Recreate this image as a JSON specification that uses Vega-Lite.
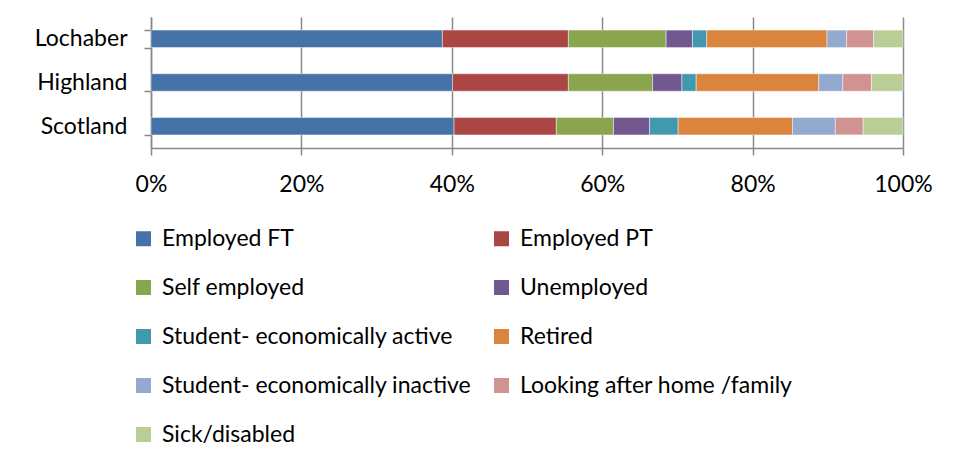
{
  "$schema": "https://vega.github.io/schema/vega-lite/v6.json",
  "width": 752,
  "height": 131,
  "autosize": {"type": "none"},
  "padding": {"left": 151, "top": 17, "right": 53, "bottom": 313},
  "background": "#ffffff",
  "data": {
    "values": [
      {"area": "Lochaber", "status": "Employed FT", "i": 0, "pct": 38.75},
      {"area": "Lochaber", "status": "Employed PT", "i": 1, "pct": 16.75},
      {"area": "Lochaber", "status": "Self employed", "i": 2, "pct": 13.0},
      {"area": "Lochaber", "status": "Unemployed", "i": 3, "pct": 3.5},
      {"area": "Lochaber", "status": "Student- economically active", "i": 4, "pct": 1.9},
      {"area": "Lochaber", "status": "Retired", "i": 5, "pct": 16.0},
      {"area": "Lochaber", "status": "Student- economically inactive", "i": 6, "pct": 2.6},
      {"area": "Lochaber", "status": "Looking after home /family", "i": 7, "pct": 3.6},
      {"area": "Lochaber", "status": "Sick/disabled", "i": 8, "pct": 3.9},
      {"area": "Highland", "status": "Employed FT", "i": 0, "pct": 40.1},
      {"area": "Highland", "status": "Employed PT", "i": 1, "pct": 15.4},
      {"area": "Highland", "status": "Self employed", "i": 2, "pct": 11.2},
      {"area": "Highland", "status": "Unemployed", "i": 3, "pct": 3.9},
      {"area": "Highland", "status": "Student- economically active", "i": 4, "pct": 1.9},
      {"area": "Highland", "status": "Retired", "i": 5, "pct": 16.3},
      {"area": "Highland", "status": "Student- economically inactive", "i": 6, "pct": 3.2},
      {"area": "Highland", "status": "Looking after home /family", "i": 7, "pct": 3.8},
      {"area": "Highland", "status": "Sick/disabled", "i": 8, "pct": 4.2},
      {"area": "Scotland", "status": "Employed FT", "i": 0, "pct": 40.3},
      {"area": "Scotland", "status": "Employed PT", "i": 1, "pct": 13.6},
      {"area": "Scotland", "status": "Self employed", "i": 2, "pct": 7.6},
      {"area": "Scotland", "status": "Unemployed", "i": 3, "pct": 4.8},
      {"area": "Scotland", "status": "Student- economically active", "i": 4, "pct": 3.8},
      {"area": "Scotland", "status": "Retired", "i": 5, "pct": 15.2},
      {"area": "Scotland", "status": "Student- economically inactive", "i": 6, "pct": 5.7},
      {"area": "Scotland", "status": "Looking after home /family", "i": 7, "pct": 3.7},
      {"area": "Scotland", "status": "Sick/disabled", "i": 8, "pct": 5.3}
    ]
  },
  "mark": {"type": "bar", "stroke": "#ffffff", "strokeOpacity": 0.45, "strokeWidth": 1},
  "encoding": {
    "y": {
      "field": "area",
      "type": "nominal",
      "sort": ["Lochaber", "Highland", "Scotland"],
      "scale": {"paddingInner": 0.6, "paddingOuter": 0.3},
      "axis": {
        "title": null,
        "tickBand": "extent",
        "domainColor": "#898989",
        "domainWidth": 1.5,
        "tickColor": "#898989",
        "tickWidth": 1.5,
        "tickSize": 7,
        "labelPadding": 17,
        "labelFont": "Lato",
        "labelFontSize": 23,
        "labelColor": "#000000",
        "grid": false
      }
    },
    "x": {
      "field": "pct",
      "type": "quantitative",
      "stack": "normalize",
      "scale": {"domain": [0, 1], "nice": false},
      "axis": {
        "title": null,
        "format": ".0%",
        "values": [0, 0.2, 0.4, 0.6, 0.8, 1],
        "labelFlush": false,
        "grid": true,
        "gridColor": "#898989",
        "gridWidth": 1.5,
        "domainColor": "#898989",
        "domainWidth": 1.5,
        "tickColor": "#898989",
        "tickWidth": 1.5,
        "tickSize": 7,
        "labelPadding": 18,
        "labelFont": "Lato",
        "labelFontSize": 23,
        "labelColor": "#000000"
      }
    },
    "color": {
      "field": "status",
      "type": "nominal",
      "scale": {
        "domain": ["Employed FT", "Employed PT", "Self employed", "Unemployed", "Student- economically active", "Retired", "Student- economically inactive", "Looking after home /family", "Sick/disabled"],
        "range": ["#4572A7", "#AA4643", "#89A54E", "#71588F", "#4198AF", "#DB843D", "#93A9CF", "#D19392", "#B9CD96"]
      },
      "legend": {
        "title": null,
        "orient": "none",
        "direction": "horizontal",
        "legendX": -19,
        "legendY": 210,
        "columns": 2,
        "columnPadding": 18,
        "rowPadding": 25,
        "symbolType": "square",
        "symbolSize": 225,
        "symbolStrokeWidth": 0,
        "labelOffset": 7,
        "labelFont": "Lato",
        "labelFontSize": 23,
        "labelColor": "#000000",
        "labelLimit": 500
      }
    },
    "order": {"field": "i", "type": "quantitative"}
  },
  "config": {"view": {"stroke": null}}
}
